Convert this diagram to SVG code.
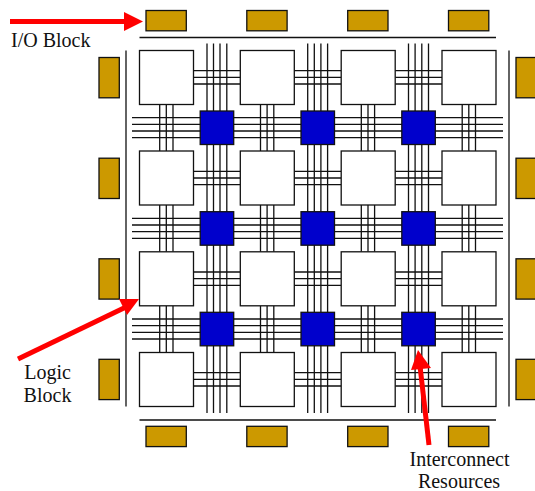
<svg xmlns="http://www.w3.org/2000/svg" width="535" height="491" viewBox="0 0 535 491">
<style>
.l{fill:#fff;stroke:#111;stroke-width:1.3}
.b{fill:#0000cc;stroke:#111;stroke-width:1.3}
.o{fill:#cc9900;stroke:#111;stroke-width:1.3}
.t{fill:none;stroke:#111;stroke-width:1.3}
.r{fill:none;stroke:#f00;stroke-width:5}
.h{fill:#f00}
text{font-family:"Liberation Serif","Times New Roman",serif;font-size:20px;fill:#111}
</style>
<rect width="535" height="491" fill="#fff"/>
<g id="connectors">
<path class="t" d="M139.500 37.500H496M139.500 420H496M126 50.500V406.500M509 50.500V406.500"/>
<path class="t" d="M207 43.500V413M213.500 43.500V413M220 43.500V413M226.800 43.500V413M307.700 43.500V413M314.300 43.500V413M320.900 43.500V413M327.600 43.500V413M408.500 43.500V413M415.100 43.500V413M421.800 43.500V413M428.500 43.500V413"/>
<path class="t" d="M132 117.700H503M132 124.300H503M132 131H503M132 137.700H503M132 218.300H503M132 225H503M132 231.700H503M132 238.400H503M132 319H503M132 325.600H503M132 332.300H503M132 339H503"/>
<path class="t" d="M193.500 70.700H240.300M193.500 77.400H240.300M193.500 84H240.300M294.300 70.700H341.200M294.300 77.400H341.200M294.300 84H341.200M395.200 70.700H442M395.200 77.400H442M395.200 84H442M193.500 171.400H240.300M193.500 178H240.300M193.500 184.700H240.300M294.300 171.400H341.200M294.300 178H341.200M294.300 184.700H341.200M395.200 171.400H442M395.200 178H442M395.200 184.700H442M193.500 272H240.300M193.500 278.700H240.300M193.500 285.400H240.300M294.300 272H341.200M294.300 278.700H341.200M294.300 285.400H341.200M395.200 272H442M395.200 278.700H442M395.200 285.400H442M193.500 372.700H240.300M193.500 379.400H240.300M193.500 386H240.300M294.300 372.700H341.200M294.300 379.400H341.200M294.300 386H341.200M395.200 372.700H442M395.200 379.400H442M395.200 386H442"/>
<path class="t" d="M159.700 104.500V151M166.300 104.500V151M173 104.500V151M260.500 104.500V151M267.100 104.500V151M273.800 104.500V151M361.300 104.500V151M368 104.500V151M374.600 104.500V151M462.200 104.500V151M468.800 104.500V151M475.500 104.500V151M159.700 205V251.800M166.300 205V251.800M173 205V251.800M260.500 205V251.800M267.100 205V251.800M273.800 205V251.800M361.300 205V251.800M368 205V251.800M374.600 205V251.800M462.200 205V251.800M468.800 205V251.800M475.500 205V251.800M159.700 305.800V352.500M166.300 305.800V352.500M173 305.800V352.500M260.500 305.800V352.500M267.100 305.800V352.500M273.800 305.800V352.500M361.300 305.800V352.500M368 305.800V352.500M374.600 305.800V352.500M462.200 305.800V352.500M468.800 305.800V352.500M475.500 305.800V352.500"/>
</g>
<g id="logic-blocks">
<g id="logic-1-1"><rect class="l" x="139.500" y="50.500" width="54" height="54"/></g>
<g id="logic-1-2"><rect class="l" x="240.300" y="50.500" width="54" height="54"/></g>
<g id="logic-1-3"><rect class="l" x="341.200" y="50.500" width="54" height="54"/></g>
<g id="logic-1-4"><rect class="l" x="442" y="50.500" width="54" height="54"/></g>
<g id="logic-2-1"><rect class="l" x="139.500" y="151" width="54" height="54"/></g>
<g id="logic-2-2"><rect class="l" x="240.300" y="151" width="54" height="54"/></g>
<g id="logic-2-3"><rect class="l" x="341.200" y="151" width="54" height="54"/></g>
<g id="logic-2-4"><rect class="l" x="442" y="151" width="54" height="54"/></g>
<g id="logic-3-1"><rect class="l" x="139.500" y="251.800" width="54" height="54"/></g>
<g id="logic-3-2"><rect class="l" x="240.300" y="251.800" width="54" height="54"/></g>
<g id="logic-3-3"><rect class="l" x="341.200" y="251.800" width="54" height="54"/></g>
<g id="logic-3-4"><rect class="l" x="442" y="251.800" width="54" height="54"/></g>
<g id="logic-4-1"><rect class="l" x="139.500" y="352.500" width="54" height="54"/></g>
<g id="logic-4-2"><rect class="l" x="240.300" y="352.500" width="54" height="54"/></g>
<g id="logic-4-3"><rect class="l" x="341.200" y="352.500" width="54" height="54"/></g>
<g id="logic-4-4"><rect class="l" x="442" y="352.500" width="54" height="54"/></g>
</g>
<g id="switch-blocks">
<g id="switch-1-1"><rect class="b" x="200.200" y="111" width="33.500" height="33.500"/></g>
<g id="switch-1-2"><rect class="b" x="301" y="111" width="33.500" height="33.500"/></g>
<g id="switch-1-3"><rect class="b" x="401.800" y="111" width="33.500" height="33.500"/></g>
<g id="switch-2-1"><rect class="b" x="200.200" y="211.700" width="33.500" height="33.500"/></g>
<g id="switch-2-2"><rect class="b" x="301" y="211.700" width="33.500" height="33.500"/></g>
<g id="switch-2-3"><rect class="b" x="401.800" y="211.700" width="33.500" height="33.500"/></g>
<g id="switch-3-1"><rect class="b" x="200.200" y="312.300" width="33.500" height="33.500"/></g>
<g id="switch-3-2"><rect class="b" x="301" y="312.300" width="33.500" height="33.500"/></g>
<g id="switch-3-3"><rect class="b" x="401.800" y="312.300" width="33.500" height="33.500"/></g>
</g>
<g id="io-blocks">
<g id="io-top-1"><rect class="o" x="146" y="10.500" width="40.300" height="20.300"/></g>
<g id="io-top-2"><rect class="o" x="246.800" y="10.500" width="40.300" height="20.300"/></g>
<g id="io-top-3"><rect class="o" x="347.700" y="10.500" width="40.300" height="20.300"/></g>
<g id="io-top-4"><rect class="o" x="448.500" y="10.500" width="40.300" height="20.300"/></g>
<g id="io-bottom-1"><rect class="o" x="146" y="426.300" width="40.300" height="20.300"/></g>
<g id="io-bottom-2"><rect class="o" x="246.800" y="426.300" width="40.300" height="20.300"/></g>
<g id="io-bottom-3"><rect class="o" x="347.700" y="426.300" width="40.300" height="20.300"/></g>
<g id="io-bottom-4"><rect class="o" x="448.500" y="426.300" width="40.300" height="20.300"/></g>
<g id="io-left-1"><rect class="o" x="99" y="57.500" width="20.300" height="40.300"/></g>
<g id="io-left-2"><rect class="o" x="99" y="158.200" width="20.300" height="40.300"/></g>
<g id="io-left-3"><rect class="o" x="99" y="258.800" width="20.300" height="40.300"/></g>
<g id="io-left-4"><rect class="o" x="99" y="359.300" width="20.300" height="40.300"/></g>
<g id="io-right-1"><rect class="o" x="516" y="57.500" width="20.300" height="40.300"/></g>
<g id="io-right-2"><rect class="o" x="516" y="158.200" width="20.300" height="40.300"/></g>
<g id="io-right-3"><rect class="o" x="516" y="258.800" width="20.300" height="40.300"/></g>
<g id="io-right-4"><rect class="o" x="516" y="359.300" width="20.300" height="40.300"/></g>
</g>
<g id="annotations">
<path class="r" d="M10 21.500H126"/>
<polygon class="h" points="124,12 143,21.500 124,31"/>
<path class="r" d="M18 359L126 307"/>
<polygon class="h" points="139,299 119,299 127,315"/>
<path class="r" d="M429 445L420 366"/>
<polygon class="h" points="418,350 431,368 411,370"/>
<text x="11" y="47">I/O Block</text>
<text x="47.500" y="379" text-anchor="middle">Logic</text>
<text x="47.500" y="402" text-anchor="middle">Block</text>
<text x="459.500" y="466" text-anchor="middle">Interconnect</text>
<text x="459" y="488" text-anchor="middle">Resources</text>
</g>
</svg>
